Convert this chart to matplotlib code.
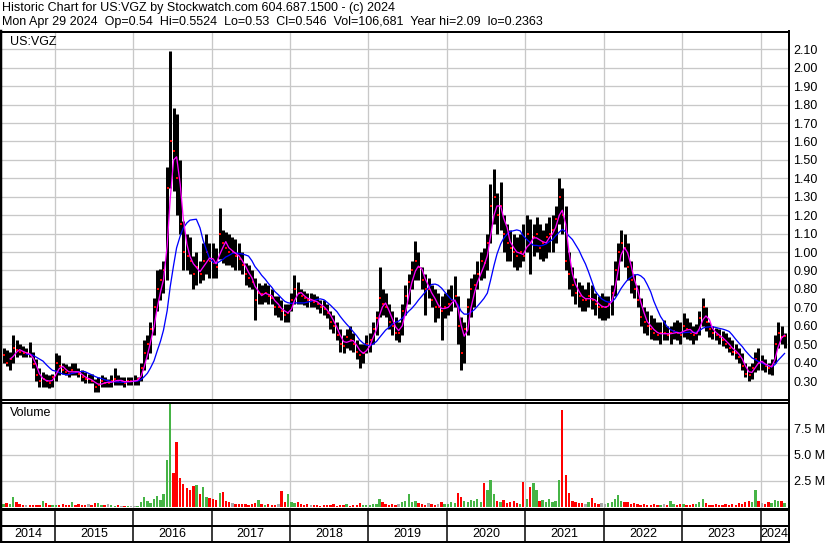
import numpy as np
import pandas as pd
import matplotlib
matplotlib.use("Agg")
import matplotlib.pyplot as plt
import matplotlib.dates as mdates
from matplotlib.lines import Line2D

plt.rcParams["font.family"] = ["Liberation Sans", "DejaVu Sans"]

# semi-monthly bars, May 2014 .. Apr 2024 (one row per year)
highs = [
    0.48, 0.47, 0.46, 0.55, 0.52, 0.50, 0.49, 0.48, 0.51, 0.46, 0.42, 0.37, 0.35, 0.34, 0.33, 0.34,
    0.45, 0.44, 0.40, 0.39, 0.38, 0.40, 0.40, 0.37, 0.36, 0.35, 0.34, 0.34, 0.31, 0.32, 0.33, 0.32, 0.31, 0.33, 0.37, 0.33, 0.32, 0.32, 0.32, 0.32,
    0.33, 0.32, 0.40, 0.52, 0.55, 0.62, 0.75, 0.90, 0.91, 0.95, 1.46, 2.09, 1.78, 1.75, 1.50, 1.17, 1.10, 1.08, 0.98, 1.00, 0.95, 1.05, 1.10, 1.05,
    1.05, 1.02, 1.24, 1.12, 1.11, 1.10, 1.08, 1.07, 1.05, 1.00, 0.94, 0.93, 0.90, 0.86, 0.83, 0.82, 0.83, 0.82, 0.80, 0.76, 0.76, 0.74, 0.72, 0.72,
    0.78, 0.875, 0.84, 0.80, 0.79, 0.78, 0.78, 0.77, 0.76, 0.74, 0.74, 0.72, 0.68, 0.66, 0.62, 0.58, 0.55, 0.58, 0.60, 0.56, 0.52, 0.50, 0.50, 0.55,
    0.56, 0.62, 0.68, 0.92, 0.80, 0.78, 0.72, 0.68, 0.65, 0.62, 0.72, 0.82, 0.88, 0.95, 1.06, 1.00, 0.92, 0.88, 0.86, 0.82, 0.80, 0.78, 0.76, 0.78,
    0.80, 0.82, 0.87, 0.76, 0.65, 0.62, 0.75, 0.86, 0.88, 0.95, 1.00, 1.02, 1.10, 1.37, 1.45, 1.32, 1.38, 1.20, 1.15, 1.12, 1.10, 1.08, 1.10, 1.15,
    1.20, 1.18, 1.15, 1.19, 1.15, 1.12, 1.16, 1.19, 1.20, 1.25, 1.40, 1.35, 1.25, 1.00, 0.92, 0.86, 0.84, 0.82, 0.80, 0.84, 0.82, 0.78, 0.76, 0.78,
    0.76, 0.76, 0.82, 0.95, 1.05, 1.12, 1.10, 1.05, 0.95, 0.88, 0.82, 0.75, 0.70, 0.68, 0.66, 0.64, 0.62, 0.62, 0.63, 0.60, 0.60, 0.62, 0.63, 0.62,
    0.67, 0.64, 0.62, 0.60, 0.61, 0.68, 0.75, 0.70, 0.62, 0.60, 0.59, 0.58, 0.57, 0.56, 0.54, 0.52, 0.50, 0.48, 0.45, 0.40, 0.38, 0.40, 0.46, 0.48,
    0.44, 0.42, 0.40, 0.42, 0.55, 0.62, 0.60, 0.56,
]
lows = [
    0.40, 0.38, 0.36, 0.40, 0.43, 0.44, 0.43, 0.43, 0.43, 0.37, 0.30, 0.27, 0.27, 0.27, 0.26, 0.27,
    0.30, 0.33, 0.34, 0.33, 0.32, 0.33, 0.33, 0.32, 0.30, 0.29, 0.29, 0.29, 0.24, 0.24, 0.27, 0.27, 0.27, 0.27, 0.28, 0.28, 0.28, 0.27, 0.28, 0.28,
    0.28, 0.28, 0.30, 0.36, 0.42, 0.45, 0.55, 0.68, 0.74, 0.78, 0.85, 1.35, 1.33, 1.20, 1.10, 0.90, 0.90, 0.88, 0.80, 0.82, 0.83, 0.85, 0.88, 0.86,
    0.86, 0.86, 0.96, 0.94, 0.93, 0.93, 0.92, 0.90, 0.90, 0.88, 0.82, 0.81, 0.80, 0.63, 0.72, 0.72, 0.73, 0.72, 0.72, 0.66, 0.65, 0.63, 0.62, 0.62,
    0.68, 0.72, 0.72, 0.72, 0.71, 0.70, 0.70, 0.70, 0.69, 0.67, 0.66, 0.64, 0.58, 0.56, 0.52, 0.46, 0.45, 0.48, 0.47, 0.46, 0.42, 0.37, 0.40, 0.45,
    0.46, 0.50, 0.55, 0.65, 0.66, 0.65, 0.58, 0.55, 0.52, 0.51, 0.55, 0.66, 0.72, 0.80, 0.85, 0.85, 0.80, 0.66, 0.75, 0.70, 0.62, 0.64, 0.52, 0.64,
    0.66, 0.68, 0.70, 0.50, 0.36, 0.40, 0.55, 0.65, 0.70, 0.80, 0.85, 0.86, 0.90, 1.05, 1.15, 1.10, 1.12, 1.00, 0.95, 0.95, 0.92, 0.90, 0.92, 0.95,
    1.00, 0.88, 0.98, 1.00, 0.96, 0.95, 0.97, 1.00, 1.00, 1.05, 1.15, 1.10, 0.90, 0.80, 0.76, 0.72, 0.70, 0.68, 0.68, 0.70, 0.69, 0.66, 0.64, 0.63,
    0.63, 0.64, 0.66, 0.76, 0.85, 0.95, 0.92, 0.85, 0.78, 0.75, 0.70, 0.60, 0.56, 0.55, 0.53, 0.52, 0.52, 0.50, 0.52, 0.52, 0.50, 0.53, 0.52, 0.50,
    0.54, 0.53, 0.52, 0.50, 0.52, 0.55, 0.60, 0.57, 0.54, 0.53, 0.52, 0.50, 0.49, 0.48, 0.46, 0.44, 0.42, 0.40, 0.36, 0.32, 0.30, 0.31, 0.35, 0.36,
    0.36, 0.35, 0.34, 0.33, 0.40, 0.48, 0.50, 0.48,
]
closes = [
    0.44, 0.40, 0.42, 0.48, 0.47, 0.46, 0.45, 0.45, 0.44, 0.39, 0.33, 0.30, 0.31, 0.30, 0.29, 0.32,
    0.40, 0.38, 0.36, 0.35, 0.34, 0.36, 0.35, 0.34, 0.32, 0.31, 0.31, 0.30, 0.27, 0.28, 0.30, 0.29, 0.29, 0.30, 0.31, 0.30, 0.30, 0.29, 0.30, 0.30,
    0.30, 0.31, 0.37, 0.45, 0.50, 0.58, 0.70, 0.80, 0.85, 0.90, 1.35, 1.60, 1.55, 1.40, 1.15, 1.00, 0.98, 0.95, 0.88, 0.92, 0.88, 0.95, 1.00, 0.95,
    0.94, 0.92, 1.10, 1.05, 1.02, 1.00, 1.00, 0.98, 0.96, 0.93, 0.88, 0.86, 0.84, 0.74, 0.78, 0.77, 0.78, 0.76, 0.75, 0.70, 0.70, 0.68, 0.66, 0.67,
    0.74, 0.80, 0.78, 0.76, 0.75, 0.74, 0.74, 0.73, 0.72, 0.70, 0.69, 0.67, 0.62, 0.60, 0.55, 0.50, 0.49, 0.54, 0.52, 0.50, 0.46, 0.44, 0.45, 0.50,
    0.52, 0.58, 0.64, 0.75, 0.72, 0.70, 0.62, 0.60, 0.56, 0.56, 0.68, 0.76, 0.84, 0.90, 0.95, 0.92, 0.85, 0.80, 0.80, 0.74, 0.70, 0.70, 0.68, 0.70,
    0.72, 0.74, 0.76, 0.60, 0.45, 0.58, 0.70, 0.80, 0.82, 0.88, 0.95, 0.94, 1.05, 1.25, 1.30, 1.20, 1.25, 1.10, 1.05, 1.02, 1.00, 0.98, 1.00, 0.98,
    1.10, 1.05, 1.08, 1.10, 1.02, 1.05, 1.08, 1.10, 1.12, 1.18, 1.30, 1.20, 0.95, 0.88, 0.82, 0.78, 0.76, 0.74, 0.74, 0.76, 0.74, 0.72, 0.70, 0.70,
    0.70, 0.72, 0.78, 0.90, 1.00, 1.05, 1.02, 0.92, 0.85, 0.80, 0.74, 0.65, 0.62, 0.60, 0.58, 0.56, 0.55, 0.56, 0.56, 0.55, 0.56, 0.57, 0.56, 0.55,
    0.60, 0.58, 0.56, 0.55, 0.56, 0.64, 0.70, 0.62, 0.58, 0.56, 0.55, 0.54, 0.52, 0.50, 0.48, 0.46, 0.45, 0.43, 0.38, 0.34, 0.33, 0.37, 0.42, 0.40,
    0.40, 0.38, 0.37, 0.38, 0.50, 0.56, 0.54, 0.546,
]
# volume in millions of shares
volumes = [
    0.3, 0.4, 0.3, 1.0, 0.5, 0.3, 0.2, 0.2, 0.2, 0.15, 0.2, 0.15, 0.55, 0.35, 0.2, 0.15,
    0.2, 0.15, 0.3, 0.2, 0.15, 0.45, 0.2, 0.25, 0.15, 0.2, 0.25, 0.15, 0.4, 0.35, 0.2, 0.15, 0.3, 0.15, 0.1, 0.2, 0.1, 0.05, 0.05, 0.05,
    0.05, 0.1, 0.5, 1.0, 0.6, 0.4, 0.8, 1.1, 0.7, 1.2, 4.5, 10.5, 3.3, 6.2, 2.8, 2.2, 1.8, 1.6, 2.0, 2.1, 1.2, 1.9, 1.0, 0.9,
    0.8, 0.7, 1.3, 1.45, 0.6, 0.5, 0.4, 0.3, 0.3, 0.25, 0.3, 0.2, 0.25, 0.4, 0.7, 0.3, 0.2, 0.3, 0.2, 0.15, 0.3, 1.5, 0.5, 1.2,
    0.5, 0.4, 0.5, 0.3, 0.2, 0.3, 0.15, 0.2, 0.2, 0.1, 0.15, 0.2, 0.15, 0.25, 0.1, 0.15, 0.2, 0.25, 0.1, 0.15, 0.2, 0.35, 0.2, 0.15,
    0.2, 0.3, 0.3, 0.8, 0.5, 0.3, 0.2, 0.3, 0.2, 0.3, 0.5, 0.6, 1.2, 0.5, 0.6, 0.4, 0.3, 0.2, 0.4, 0.3, 0.2, 0.3, 0.5, 0.3,
    0.3, 0.5, 0.4, 1.3, 1.0, 0.6, 0.5, 0.7, 0.6, 0.8, 0.5, 2.3, 1.6, 2.6, 1.2, 0.6, 0.5, 0.7, 0.4, 0.5, 0.6, 0.4, 0.3, 2.4,
    0.8, 1.9, 2.3, 1.6, 0.6, 0.7, 0.5, 0.8, 0.5, 0.6, 2.6, 9.3, 3.1, 1.3, 0.6, 0.5, 0.4, 0.4, 0.3, 0.5, 0.9, 0.4, 0.3, 0.4,
    0.3, 0.4, 0.5, 0.8, 1.15, 0.6, 0.5, 0.5, 0.3, 0.4, 0.3, 0.2, 0.3, 0.2, 0.2, 0.3, 0.2, 0.15, 0.3, 0.2, 0.6, 0.3, 0.2, 0.3,
    0.3, 0.2, 0.2, 0.3, 0.3, 0.5, 0.8, 0.4, 0.2, 0.2, 0.3, 0.2, 0.2, 0.3, 0.2, 0.3, 0.2, 0.4, 0.3, 0.5, 0.6, 0.5, 1.6, 0.6,
    0.4, 0.3, 0.5, 0.4, 0.7, 0.6, 0.6, 0.4,
]
price_ticks = np.round(np.arange(0.3, 2.11, 0.1), 2)
vol_ticks = [2.5, 5.0, 7.5]
title1 = "Historic Chart for US:VGZ by Stockwatch.com 604.687.1500 - (c) 2024"
title2 = ("Mon Apr 29 2024  Op=0.54  Hi=0.5524  Lo=0.53  Cl=0.546  "
          "Vol=106,681  Year hi=2.09  lo=0.2363")

W, H = 830, 543
PX = 0.72  # points per pixel at dpi 100
GRID = "#c8c8c8"
FS = 9


def box(x0, y0, x1, y1):
    return [x0 / W, 1 - y1 / H, (x1 - x0) / W, (y1 - y0) / H]


dates = pd.date_range("2014-05-01", periods=len(closes), freq="SMS")
x = mdates.date2num(dates) + 7
c = pd.Series(closes)
ma_fast = c.rolling(3).mean()
ma_slow = c.rolling(10, min_periods=8).mean()
chg = c.diff().fillna(1)
vcolors = np.where(chg > 0, "#46b446", np.where(chg < 0, "#ff0000", "#a8a8a8"))

x0 = mdates.date2num(pd.Timestamp("2014-05-01"))
x1 = mdates.date2num(pd.Timestamp("2024-05-08"))
years = list(range(2015, 2025))
ylines = [mdates.date2num(pd.Timestamp(f"{y}-01-01")) for y in years]

fig = plt.figure(figsize=(W / 100, H / 100), dpi=100)
fig.text(2 / W, 1 - 8 / H, title1, fontsize=FS, va="center", ha="left")
fig.text(2 / W, 1 - 21.5 / H, title2, fontsize=FS, va="center", ha="left")

ax = fig.add_axes(box(2, 32, 788, 400))
ax.vlines(x, lows, highs, color="black", lw=3.0 * PX)
ax.plot(x + 3, closes, "s", color="red", ms=1.6, mew=0)
ax.plot(x, ma_slow, color="#0000ff", lw=1.3 * PX)
ax.plot(x, ma_fast, color="#ff00ff", lw=1.3 * PX)
ax.set_xlim(x0, x1)
ax.set_ylim(0.197, 2.194)
ax.set_xticks(ylines)
ax.set_yticks(price_ticks)
ax.set_yticklabels([f"{v:.2f}" for v in price_ticks])
ax.yaxis.tick_right()
ax.tick_params(axis="both", length=0, labelsize=FS, pad=4)
ax.tick_params(axis="x", labelbottom=False)
ax.grid(True, color=GRID, lw=1.3 * PX)
ax.set_axisbelow(True)
ax.text(8 / 786, 1 - 10 / 368, "US:VGZ", transform=ax.transAxes,
        fontsize=FS, va="center", ha="left")

axv = fig.add_axes(box(2, 403, 788, 509))
axv.bar(x, volumes, width=11, color=vcolors, lw=0)
axv.set_xlim(x0, x1)
axv.set_ylim(-0.19, 9.95)
axv.set_xticks(ylines)
axv.set_yticks(vol_ticks)
axv.set_yticklabels([f"{v:.1f} M" for v in vol_ticks])
axv.yaxis.tick_right()
axv.tick_params(axis="both", length=0, labelsize=FS, pad=4)
axv.tick_params(axis="x", labelbottom=False)
axv.grid(True, color=GRID, lw=1.3 * PX)
axv.set_axisbelow(True)
axv.text(8 / 786, 1 - 10 / 106, "Volume", transform=axv.transAxes,
         fontsize=FS, va="center", ha="left")

axy = fig.add_axes(box(2, 510, 788, 542))
axy.set_xlim(x0, x1)
axy.set_ylim(0, 2)
axy.set_xticks([])
axy.set_yticks([])
axy.axhline(1, color="black", lw=2 * PX)
axy.vlines(ylines, 0, 2, color="black", lw=1.5 * PX)
edges = [x0] + ylines + [x1]
for i, yr in enumerate(range(2014, 2025)):
    axy.text((edges[i] + edges[i + 1]) / 2, 0.5, str(yr), fontsize=FS,
             ha="center", va="center")

for a in (ax, axv, axy):
    for s in a.spines.values():
        s.set_color("black")
        s.set_linewidth(2 * PX)
    a.spines["left"].set_visible(False)
    a.spines["right"].set_visible(False)

fig.add_artist(Line2D([1.2 / W, 1.2 / W], [0, 1 - 31 / H], color="black",
                      lw=2.5 * PX, transform=fig.transFigure))
fig.add_artist(Line2D([788.5 / W, 788.5 / W], [0, 1 - 31 / H], color="black",
                      lw=2 * PX, transform=fig.transFigure))

fig.savefig("out.png", dpi=100)
